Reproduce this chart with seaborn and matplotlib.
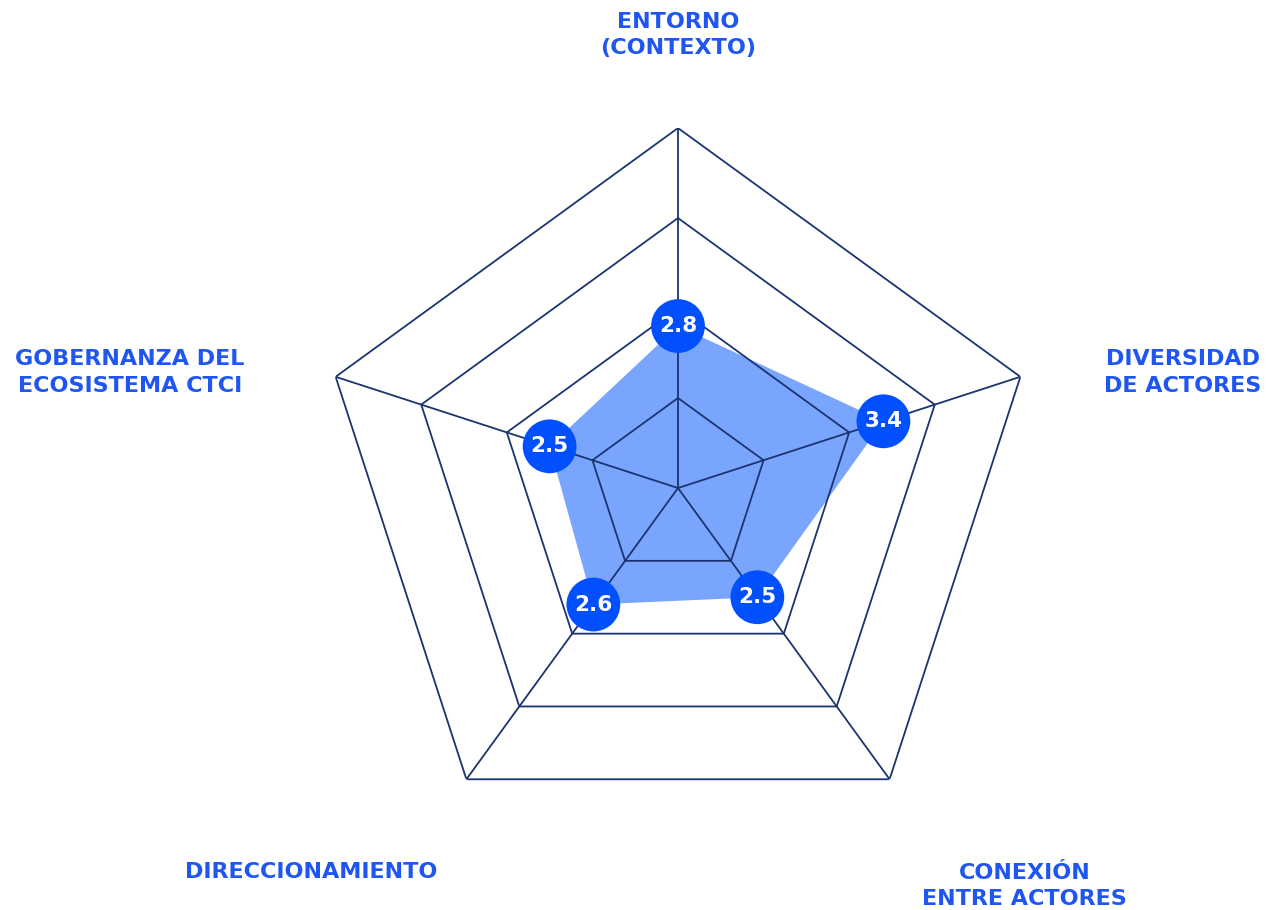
import numpy as np
import matplotlib
matplotlib.use('Agg')
import matplotlib.pyplot as plt
import seaborn as sns

categories = ['ENTORNO\n(CONTEXTO)', 'DIVERSIDAD\nDE ACTORES', 'CONEXIÓN\nENTRE ACTORES',
              'DIRECCIONAMIENTO', 'GOBERNANZA DEL\nECOSISTEMA CTCI']
values = [2.8, 3.4, 2.5, 2.6, 2.5]
levels = [2, 3, 4, 5]
r_min, r_max = 1, 5

label_blue = '#1f56f2'
marker_blue = '#0050ff'
fill_blue = '#7aa5ff'
grid_navy = '#1b3470'

sns.set_theme(style='white')
plt.rcParams['font.family'] = ['DejaVu Sans']

fig = plt.figure(figsize=(12.68, 9.10), dpi=100)
ax = fig.add_axes([0.2508, 0.0681, 0.5678, 0.7912], projection='polar')
ax.set_theta_offset(np.pi / 2)
ax.set_theta_direction(-1)
ax.set_ylim(r_min, r_max)
ax.grid(False)
ax.spines['polar'].set_visible(False)
ax.set_xticks([])
ax.set_yticks([])
ax.patch.set_alpha(0)

angles = np.linspace(0, 2 * np.pi, len(categories), endpoint=False)
closed = np.append(angles, angles[0])

# data polygon
vals_closed = np.append(values, values[0])
ax.fill(closed, vals_closed, color=fill_blue, lw=0, zorder=1)

# pentagon grid
for lv in levels:
    ax.plot(closed, [lv] * len(closed), color=grid_navy, lw=1.3, zorder=2)
for a in angles:
    ax.plot([a, a], [r_min, r_max], color=grid_navy, lw=1.3, zorder=2)

# value markers
sns.scatterplot(x=angles, y=values, ax=ax, s=1500, color=marker_blue,
                edgecolor='none', zorder=3, legend=False)
for a, v in zip(angles, values):
    ax.text(a, v, f'{v}', color='white', fontsize=15.5, fontweight='bold',
            ha='center', va='center', zorder=4)

# axis labels, offset (points) from the tip of each axis
offsets = [(0, 67), (117, 3), (97, -77), (-112, -67), (-148, 3)]
for a, lab, off in zip(angles, categories, offsets):
    ax.annotate(lab, xy=(a, r_max), xytext=off, textcoords='offset points',
                ha='center', va='center', color=label_blue, fontsize=16,
                fontweight='bold', linespacing=1.4, annotation_clip=False)

fig.savefig('out.png', dpi=100, facecolor='white')
